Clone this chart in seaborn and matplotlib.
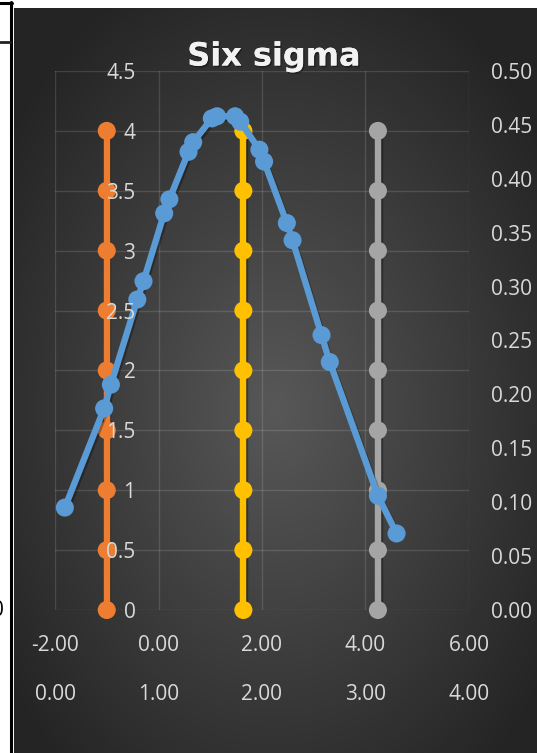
import numpy as np
import pandas as pd
import matplotlib
matplotlib.use("Agg")
import matplotlib.pyplot as plt
import matplotlib.patheffects as pe
from matplotlib.ticker import FixedLocator, FuncFormatter, NullLocator
from matplotlib.lines import Line2D
import seaborn as sns

# ---- data -------------------------------------------------------------
# distribution curve (primary x, secondary y)
curve_x = [-1.81, -1.05, -0.92, -0.41, -0.29, 0.11, 0.21, 0.58, 0.67, 1.03,
           1.13, 1.48, 1.58, 1.95, 2.04, 2.48, 2.59, 3.15, 3.31, 4.24, 4.60]
curve_y = [0.095, 0.187, 0.209, 0.288, 0.305, 0.368, 0.381, 0.425, 0.434, 0.456,
           0.458, 0.458, 0.453, 0.427, 0.416, 0.359, 0.343, 0.255, 0.230, 0.106, 0.071]

# limit lines (secondary x, primary y)
limit_names = ["LSL", "Mean", "USL"]
limit_pos = [0.50, 1.82, 3.12]
limit_heights = [0, 0.5, 1, 1.5, 2, 2.5, 3, 3.5, 4]

primary_y_ticks = [0, 0.5, 1, 1.5, 2, 2.5, 3, 3.5, 4, 4.5]
secondary_y_ticks = [0.00, 0.05, 0.10, 0.15, 0.20, 0.25, 0.30, 0.35, 0.40, 0.45, 0.50]
primary_x_ticks = [-2, 0, 2, 4, 6]
secondary_x_ticks = [0, 1, 2, 3, 4]

colors = {"LSL": "#ED7D31", "Mean": "#FFC000", "USL": "#A5A5A5"}
curve_color = "#5B9BD5"
label_color = "#D9D9D9"

# ---- figure -----------------------------------------------------------
sns.set_theme(style="dark")
plt.rcParams["font.family"] = ["Open Sans", "DejaVu Sans"]
plt.rcParams["axes.grid"] = False

W, H = 537, 753
fig = plt.figure(figsize=(W / 100, H / 100), dpi=100)
fig.patch.set_facecolor("white")

def px_rect(x0, y0, x1, y1):
    return [x0 / W, 1 - y1 / H, (x1 - x0) / W, (y1 - y0) / H]

# dark chart area with a radial gradient
bg = fig.add_axes(px_rect(14, 8, 537, 753), zorder=-10)
gy, gx = np.mgrid[0:745, 0:523]
cx, cy = 261, 400
r = np.sqrt(((gx - cx) / 300.0) ** 2 + ((gy - cy) / 430.0) ** 2)
t = np.clip(r / 1.1, 0, 1)
shade = (88 - (88 - 36) * t) / 255.0
bg.imshow(np.dstack([shade, shade, shade]), aspect="auto", interpolation="bilinear")
bg.set_axis_off()

# black frame lines at the left edge
frame = fig.add_axes([0, 0, 1, 1], zorder=-5)
frame.set_xlim(0, W)
frame.set_ylim(H, 0)
frame.set_axis_off()
frame.add_line(Line2D([11, 11], [2, H], color="black", lw=2.2))
frame.add_line(Line2D([0, 12], [3, 3], color="black", lw=2.2))
frame.add_line(Line2D([0, 10], [42, 42], color="#222222", lw=2.0))

plot_rect = px_rect(55, 71, 469, 610)

# limit lines: secondary x, primary y
ax_lim = fig.add_axes(plot_rect, label="limits")
ax_lim.set_xlim(0, 4)
ax_lim.set_ylim(0, 4.5)

# distribution curve: primary x, secondary y
ax2 = fig.add_axes(plot_rect, label="curve")
ax2.set_xlim(-2, 6)
ax2.set_ylim(0, 0.5)

# primary y / secondary x axis labels, drawn above the series
ax = fig.add_axes(plot_rect, label="axes")
ax.set_xlim(0, 4)
ax.set_ylim(0, 4.5)

for a in (ax_lim, ax2, ax):
    a.set_facecolor("none")

# gridlines under everything
grid_kw = dict(color=(1, 1, 1, 0.13), linewidth=1.0, zorder=0)
for v in secondary_x_ticks:
    ax_lim.axvline(v, **grid_kw)
for v in primary_y_ticks:
    ax_lim.axhline(v, **grid_kw)

limits_df = pd.DataFrame({
    "x": [p for p in limit_pos for _ in limit_heights],
    "y": [h for _ in limit_pos for h in limit_heights],
    "limit": [n for n in limit_names for _ in limit_heights],
})
sns.lineplot(data=limits_df, x="x", y="y", hue="limit", palette=colors,
             estimator=None, sort=False, units="limit", marker="o",
             markersize=13, markeredgewidth=0, linewidth=4.6,
             legend=False, ax=ax_lim)

curve_df = pd.DataFrame({"x": curve_x, "y": curve_y})
sns.lineplot(data=curve_df, x="x", y="y", color=curve_color, estimator=None,
             sort=False, marker="o", markersize=13, markeredgewidth=0,
             linewidth=4.6, legend=False, ax=ax2)

shadow = [pe.SimpleLineShadow(offset=(1.2, -1.5), shadow_color="black", alpha=0.3),
          pe.Normal()]
for line in ax_lim.get_lines() + ax2.get_lines():
    if line.get_marker() == "o":
        line.set_path_effects(shadow)
        line.set_clip_on(False)

for a in (ax_lim, ax2, ax):
    a.grid(False)
    for s in a.spines.values():
        s.set_visible(False)
    a.set_xlabel("")
    a.set_ylabel("")

ax_lim.xaxis.set_major_locator(NullLocator())
ax_lim.yaxis.set_major_locator(NullLocator())

tick_font = 15

# primary y labels sit beside the lower limit line
ax.yaxis.set_major_locator(FixedLocator(primary_y_ticks))
ax.spines["left"].set_position(("data", 0.79))
ax.yaxis.set_major_formatter(FuncFormatter(lambda v, _: f"{v:g}"))
ax.tick_params(axis="y", length=0, pad=1, labelsize=tick_font, labelcolor=label_color)

# secondary x labels: second row below the plot
ax.xaxis.set_major_locator(FixedLocator(secondary_x_ticks))
ax.xaxis.set_major_formatter(FuncFormatter(lambda v, _: f"{v:.2f}"))
ax.tick_params(axis="x", length=0, pad=53, labelsize=tick_font, labelcolor=label_color)

# primary x labels: first row below the plot
ax2.xaxis.set_major_locator(FixedLocator(primary_x_ticks))
ax2.xaxis.set_major_formatter(FuncFormatter(lambda v, _: f"{v:.2f}"))
ax2.tick_params(axis="x", length=0, pad=18, labelsize=tick_font, labelcolor=label_color)

# secondary y labels on the right
ax2.yaxis.set_major_locator(FixedLocator(secondary_y_ticks))
ax2.yaxis.set_major_formatter(FuncFormatter(lambda v, _: f"{v:.2f}"))
ax2.yaxis.tick_right()
ax2.tick_params(axis="y", length=0, pad=15.5, labelsize=tick_font, labelcolor=label_color)

# title
fig.text(274 / W, 1 - 57 / H, "Six sigma", ha="center", va="center",
         fontsize=23, fontweight="bold", color="#F2F2F2", family="DejaVu Sans",
         path_effects=[pe.withSimplePatchShadow(offset=(1, -1.2), shadow_rgbFace="black", alpha=0.35),
                       pe.Normal()])

# clipped label at the left margin
fig.text(4 / W, 1 - 610 / H, "0", ha="right", va="center", fontsize=tick_font,
         color="black")

fig.savefig("out.png", dpi=100)
